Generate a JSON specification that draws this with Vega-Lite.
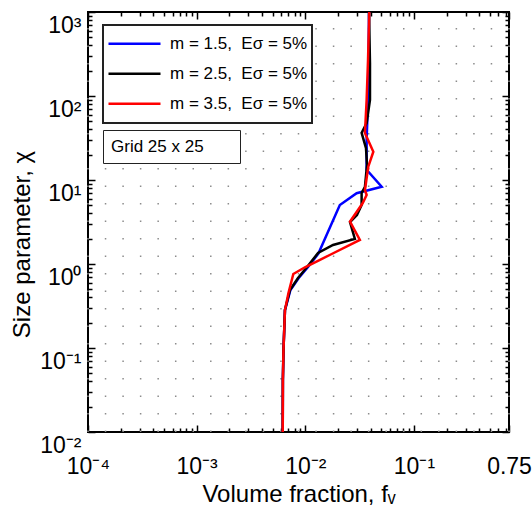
{
  "$schema": "https://vega.github.io/schema/vega-lite/v6.json",
  "width": 421,
  "height": 420,
  "autosize": {"type": "none"},
  "padding": {"left": 88, "top": 12, "right": 23, "bottom": 91},
  "background": "white",
  "config": {
    "font": "Liberation Sans",
    "view": {"stroke": "#000", "strokeWidth": 2},
    "axis": {"domain": false, "grid": false, "tickColor": "#000", "tickWidth": 1.5, "labelColor": "#000", "titleColor": "#000", "titleFontWeight": "normal", "labelFontWeight": "normal"},
    "legend": {"labelColor": "#000", "labelFont": "Liberation Sans"}
  },
  "layer": [
    {
      "data": {"values": [
        {"gx": 0.0001, "note": "Grid 25 x 25"}, {"gx": 0.00014503, "note": "Grid 25 x 25"}, {"gx": 0.00021034, "note": "Grid 25 x 25"},
        {"gx": 0.00030506, "note": "Grid 25 x 25"}, {"gx": 0.00044243, "note": "Grid 25 x 25"}, {"gx": 0.00064165, "note": "Grid 25 x 25"},
        {"gx": 0.0009306, "note": "Grid 25 x 25"}, {"gx": 0.0013497, "note": "Grid 25 x 25"}, {"gx": 0.0019574, "note": "Grid 25 x 25"},
        {"gx": 0.0028388, "note": "Grid 25 x 25"}, {"gx": 0.0041172, "note": "Grid 25 x 25"}, {"gx": 0.0059712, "note": "Grid 25 x 25"},
        {"gx": 0.00866, "note": "Grid 25 x 25"}, {"gx": 0.01256, "note": "Grid 25 x 25"}, {"gx": 0.018215, "note": "Grid 25 x 25"},
        {"gx": 0.026418, "note": "Grid 25 x 25"}, {"gx": 0.038314, "note": "Grid 25 x 25"}, {"gx": 0.055568, "note": "Grid 25 x 25"},
        {"gx": 0.080589, "note": "Grid 25 x 25"}, {"gx": 0.11688, "note": "Grid 25 x 25"}, {"gx": 0.16951, "note": "Grid 25 x 25"},
        {"gx": 0.24584, "note": "Grid 25 x 25"}, {"gx": 0.35655, "note": "Grid 25 x 25"}, {"gx": 0.5171, "note": "Grid 25 x 25"},
        {"gx": 0.75, "note": "Grid 25 x 25"}
      ]},
      "mark": {"type": "rule", "color": "#8c8c8c", "strokeWidth": 1.5},
      "encoding": {
        "x": {"field": "gx", "type": "quantitative",
          "scale": {"type": "log", "domain": [0.0001, 0.75], "nice": false},
          "axis": {"orient": "top", "labels": false, "title": null, "grid": false,
            "values": [0.0001,0.0002,0.0003,0.0004,0.0005,0.0006,0.0007,0.0008,0.0009,0.001,0.002,0.003,0.004,0.005,0.006,0.007,0.008,0.009,0.01,0.02,0.03,0.04,0.05,0.06,0.07,0.08,0.09,0.1,0.2,0.3,0.4,0.5,0.6,0.7,0.75],
            "tickSize": {"condition": {"test": "indexof([0.0001,0.001,0.01,0.1,0.75], datum.value) >= 0", "value": -7}, "value": -4}}},
        "y": {"datum": 0.01, "type": "quantitative",
          "scale": {"type": "log", "domain": [0.01, 1000], "nice": false},
          "axis": {"orient": "right", "labels": false, "title": null, "grid": false,
            "values": [0.01,0.02,0.03,0.04,0.05,0.06,0.07,0.08,0.09,0.1,0.2,0.3,0.4,0.5,0.6,0.7,0.8,0.9,1,2,3,4,5,6,7,8,9,10,20,30,40,50,60,70,80,90,100,200,300,400,500,600,700,800,900,1000],
            "tickSize": {"condition": {"test": "indexof([0.01,0.1,1,10,100,1000], datum.value) >= 0", "value": -7}, "value": -4}}},
        "y2": {"datum": 1000},
        "strokeDash": {"field": "note", "type": "nominal", "scale": {"range": [[1.5, 16]]},
          "legend": {"orient": "none", "legendX": 15, "legendY": 118, "title": null, "symbolOpacity": 0, "symbolSize": 0,
            "labelOffset": -17, "labelFontSize": 17, "labelLimit": 0, "padding": 8, "strokeColor": "#222", "fillColor": "white",
            "labelExpr": "datum.label + '\u2800\u2009\u2800'",
            "encode": {"legend": {"update": {"strokeWidth": {"value": 2}}}}}}
      }
    },
    {
      "data": {"values": [
        {"m": "1.5", "fv": 0.0062, "chi": 0.01}, {"m": "1.5", "fv": 0.00622, "chi": 0.0416}, {"m": "1.5", "fv": 0.0063, "chi": 0.0946},
        {"m": "1.5", "fv": 0.0065, "chi": 0.283}, {"m": "1.5", "fv": 0.0073, "chi": 0.49}, {"m": "1.5", "fv": 0.0087, "chi": 0.681},
        {"m": "1.5", "fv": 0.0106, "chi": 0.921}, {"m": "1.5", "fv": 0.0132, "chi": 1.33}, {"m": "1.5", "fv": 0.0208, "chi": 5.04},
        {"m": "1.5", "fv": 0.0297, "chi": 6.95}, {"m": "1.5", "fv": 0.0505, "chi": 8.32}, {"m": "1.5", "fv": 0.0367, "chi": 13.2},
        {"m": "1.5", "fv": 0.0367, "chi": 29.9}, {"m": "1.5", "fv": 0.0378, "chi": 89.6}, {"m": "1.5", "fv": 0.0386, "chi": 1000},

        {"m": "2.5", "fv": 0.0062, "chi": 0.01}, {"m": "2.5", "fv": 0.00622, "chi": 0.0416}, {"m": "2.5", "fv": 0.0063, "chi": 0.0946},
        {"m": "2.5", "fv": 0.0065, "chi": 0.283}, {"m": "2.5", "fv": 0.00723, "chi": 0.49}, {"m": "2.5", "fv": 0.00857, "chi": 0.681},
        {"m": "2.5", "fv": 0.01038, "chi": 0.921}, {"m": "2.5", "fv": 0.0131, "chi": 1.352}, {"m": "2.5", "fv": 0.018, "chi": 1.684},
        {"m": "2.5", "fv": 0.0286, "chi": 1.986}, {"m": "2.5", "fv": 0.0258, "chi": 3.162}, {"m": "2.5", "fv": 0.0299, "chi": 3.83},
        {"m": "2.5", "fv": 0.033, "chi": 5.04}, {"m": "2.5", "fv": 0.033, "chi": 7.0}, {"m": "2.5", "fv": 0.0354, "chi": 8.26},
        {"m": "2.5", "fv": 0.037, "chi": 15.1}, {"m": "2.5", "fv": 0.0362, "chi": 24.0}, {"m": "2.5", "fv": 0.033, "chi": 36.3},
        {"m": "2.5", "fv": 0.0367, "chi": 47.7}, {"m": "2.5", "fv": 0.0394, "chi": 89.6}, {"m": "2.5", "fv": 0.0394, "chi": 247},
        {"m": "2.5", "fv": 0.0386, "chi": 1000},

        {"m": "3.5", "fv": 0.0062, "chi": 0.01}, {"m": "3.5", "fv": 0.00622, "chi": 0.0416}, {"m": "3.5", "fv": 0.0063, "chi": 0.0946},
        {"m": "3.5", "fv": 0.0065, "chi": 0.283}, {"m": "3.5", "fv": 0.007, "chi": 0.452}, {"m": "3.5", "fv": 0.00776, "chi": 0.76},
        {"m": "3.5", "fv": 0.00993, "chi": 0.914}, {"m": "3.5", "fv": 0.01365, "chi": 1.117}, {"m": "3.5", "fv": 0.0175, "chi": 1.315},
        {"m": "3.5", "fv": 0.0318, "chi": 1.931}, {"m": "3.5", "fv": 0.0258, "chi": 3.19}, {"m": "3.5", "fv": 0.0337, "chi": 5.28},
        {"m": "3.5", "fv": 0.0367, "chi": 6.63}, {"m": "3.5", "fv": 0.0354, "chi": 7.6}, {"m": "3.5", "fv": 0.038, "chi": 14.4},
        {"m": "3.5", "fv": 0.0423, "chi": 21.7}, {"m": "3.5", "fv": 0.0354, "chi": 36.3}, {"m": "3.5", "fv": 0.0367, "chi": 89.6},
        {"m": "3.5", "fv": 0.0378, "chi": 268}, {"m": "3.5", "fv": 0.0388, "chi": 1000}
      ]},
      "mark": {"type": "line", "strokeWidth": 2.5},
      "encoding": {
        "x": {"field": "fv", "type": "quantitative",
          "scale": {"type": "log", "domain": [0.0001, 0.75], "nice": false},
          "axis": {"orient": "bottom", "title": "Volume fraction, fᵥ", "titleFontSize": 24, "titlePadding": 1,
            "labelFontSize": 23, "labelFlush": false, "labelOverlap": false, "labelBaseline": "alphabetic", "labelPadding": 48,
            "values": [0.0001,0.0002,0.0003,0.0004,0.0005,0.0006,0.0007,0.0008,0.0009,0.001,0.002,0.003,0.004,0.005,0.006,0.007,0.008,0.009,0.01,0.02,0.03,0.04,0.05,0.06,0.07,0.08,0.09,0.1,0.2,0.3,0.4,0.5,0.6,0.7,0.75],
            "labelExpr": "datum.value == 0.0001 ? '10⁻⁴' : datum.value == 0.001 ? '10⁻³' : datum.value == 0.01 ? '10⁻²' : datum.value == 0.1 ? '10⁻¹' : datum.value == 0.75 ? '0.75' : ''",
            "tickSize": {"condition": {"test": "indexof([0.0001,0.001,0.01,0.1,0.75], datum.value) >= 0", "value": -7}, "value": -4}}},
        "y": {"field": "chi", "type": "quantitative",
          "scale": {"type": "log", "domain": [0.01, 1000], "nice": false},
          "axis": {"orient": "left", "title": "Size parameter, χ", "titleFontSize": 24, "titlePadding": 5, "titleY": 232,
            "labelFontSize": 23, "labelFlush": false, "labelOverlap": false, "labelBaseline": "alphabetic", "labelOffset": 20, "labelPadding": 14,
            "values": [0.01,0.02,0.03,0.04,0.05,0.06,0.07,0.08,0.09,0.1,0.2,0.3,0.4,0.5,0.6,0.7,0.8,0.9,1,2,3,4,5,6,7,8,9,10,20,30,40,50,60,70,80,90,100,200,300,400,500,600,700,800,900,1000],
            "labelExpr": "datum.value == 0.01 ? '10⁻²' : datum.value == 0.1 ? '10⁻¹' : datum.value == 1 ? '10⁰' : datum.value == 10 ? '10¹' : datum.value == 100 ? '10²' : datum.value == 1000 ? '10³' : ''",
            "tickSize": {"condition": {"test": "indexof([0.01,0.1,1,10,100,1000], datum.value) >= 0", "value": -7}, "value": -4}}},
        "color": {"field": "m", "type": "nominal",
          "scale": {"domain": ["1.5", "2.5", "3.5"], "range": ["#0000ff", "#000000", "#ff0000"]},
          "legend": {"orient": "none", "legendX": 15, "legendY": 13, "title": null, "symbolType": "stroke", "symbolSize": 2704,
            "symbolStrokeWidth": 2.5, "clipHeight": 29.5, "rowPadding": 0, "labelOffset": 8, "labelFontSize": 17, "labelLimit": 0,
            "padding": 4, "strokeColor": "#222", "fillColor": "white",
            "labelExpr": "'m = ' + datum.label + ',\u00a0 Eσ = 5%'",
            "encode": {"legend": {"update": {"strokeWidth": {"value": 2}}}}}},
        "order": {"field": "chi", "type": "quantitative"}
      }
    }
  ],
  "resolve": {"axis": {"x": "independent", "y": "independent"}}
}
